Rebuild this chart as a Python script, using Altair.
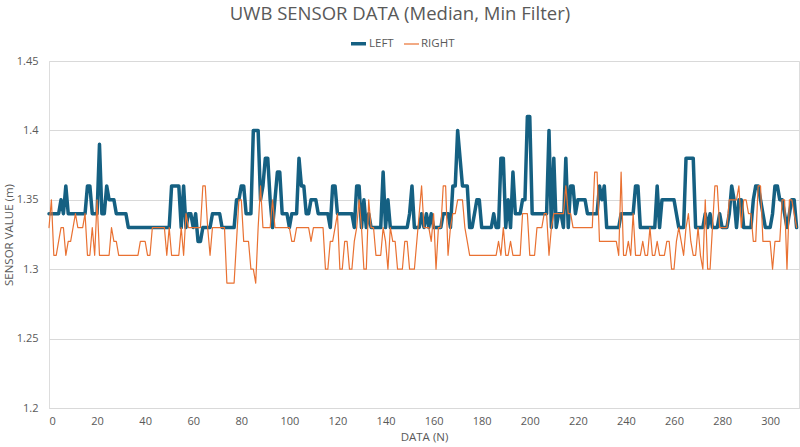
import altair as alt
import pandas as pd

series_names = ["LEFT", "RIGHT"]
x_ticks = [0, 20, 40, 60, 80, 100, 120, 140, 160, 180, 200, 220, 240, 260, 280, 300]
y_ticks = [1.2, 1.25, 1.3, 1.35, 1.4, 1.45]

left = [
    1.34, 1.34, 1.34, 1.34, 1.34, 1.35, 1.34, 1.36, 1.34, 1.34,
    1.34, 1.34, 1.34, 1.34, 1.34, 1.34, 1.36, 1.36, 1.34, 1.34,
    1.34, 1.39, 1.34, 1.34, 1.36, 1.35, 1.35, 1.35, 1.34, 1.34,
    1.34, 1.34, 1.34, 1.33, 1.33, 1.33, 1.33, 1.33, 1.33, 1.33,
    1.33, 1.33, 1.33, 1.33, 1.33, 1.33, 1.33, 1.33, 1.33, 1.33,
    1.33, 1.36, 1.36, 1.36, 1.36, 1.33, 1.36, 1.33, 1.34, 1.34,
    1.33, 1.34, 1.32, 1.32, 1.33, 1.33, 1.33, 1.33, 1.34, 1.34,
    1.34, 1.34, 1.33, 1.33, 1.33, 1.33, 1.33, 1.33, 1.35, 1.35,
    1.36, 1.36, 1.34, 1.34, 1.34, 1.40, 1.40, 1.40, 1.35, 1.36,
    1.38, 1.38, 1.35, 1.33, 1.35, 1.37, 1.37, 1.34, 1.34, 1.34,
    1.33, 1.34, 1.34, 1.34, 1.38, 1.36, 1.36, 1.34, 1.34, 1.35,
    1.35, 1.35, 1.34, 1.34, 1.34, 1.34, 1.34, 1.33, 1.36, 1.36,
    1.34, 1.34, 1.34, 1.34, 1.34, 1.34, 1.34, 1.33, 1.36, 1.36,
    1.33, 1.35, 1.33, 1.34, 1.33, 1.33, 1.33, 1.33, 1.33, 1.37,
    1.33, 1.35, 1.33, 1.33, 1.33, 1.33, 1.33, 1.33, 1.33, 1.33,
    1.34, 1.36, 1.33, 1.33, 1.33, 1.34, 1.33, 1.34, 1.33, 1.34,
    1.33, 1.33, 1.33, 1.33, 1.34, 1.34, 1.34, 1.33, 1.36, 1.36,
    1.40, 1.38, 1.36, 1.36, 1.36, 1.33, 1.33, 1.34, 1.35, 1.35,
    1.33, 1.33, 1.33, 1.33, 1.33, 1.34, 1.33, 1.33, 1.38, 1.38,
    1.33, 1.35, 1.33, 1.37, 1.34, 1.34, 1.34, 1.35, 1.35, 1.41,
    1.41, 1.34, 1.34, 1.34, 1.34, 1.34, 1.34, 1.34, 1.40, 1.33,
    1.38, 1.33, 1.34, 1.34, 1.33, 1.38, 1.33, 1.36, 1.36, 1.34,
    1.35, 1.35, 1.35, 1.35, 1.34, 1.34, 1.34, 1.34, 1.34, 1.36,
    1.35, 1.36, 1.33, 1.33, 1.33, 1.33, 1.33, 1.33, 1.34, 1.34,
    1.34, 1.34, 1.34, 1.34, 1.36, 1.36, 1.33, 1.33, 1.33, 1.33,
    1.33, 1.33, 1.33, 1.36, 1.33, 1.35, 1.35, 1.35, 1.35, 1.35,
    1.35, 1.34, 1.33, 1.33, 1.33, 1.38, 1.38, 1.38, 1.38, 1.33,
    1.33, 1.33, 1.33, 1.34, 1.33, 1.34, 1.33, 1.33, 1.33, 1.34,
    1.33, 1.33, 1.33, 1.34, 1.36, 1.35, 1.33, 1.35, 1.35, 1.33,
    1.33, 1.33, 1.33, 1.35, 1.36, 1.36, 1.35, 1.34, 1.33, 1.33,
    1.33, 1.34, 1.36, 1.36, 1.35, 1.35, 1.34, 1.33, 1.34, 1.35,
    1.35, 1.33,
]

right = [
    1.33, 1.35, 1.31, 1.31, 1.32, 1.33, 1.33, 1.31, 1.32, 1.32,
    1.33, 1.34, 1.33, 1.33, 1.33, 1.34, 1.31, 1.31, 1.33, 1.31,
    1.35, 1.31, 1.31, 1.31, 1.31, 1.31, 1.33, 1.32, 1.32, 1.31,
    1.31, 1.31, 1.31, 1.31, 1.31, 1.31, 1.31, 1.31, 1.32, 1.32,
    1.32, 1.31, 1.31, 1.33, 1.33, 1.33, 1.33, 1.33, 1.33, 1.31,
    1.33, 1.31, 1.31, 1.31, 1.31, 1.33, 1.31, 1.34, 1.33, 1.33,
    1.33, 1.33, 1.33, 1.33, 1.36, 1.36, 1.33, 1.31, 1.33, 1.33,
    1.33, 1.33, 1.33, 1.33, 1.29, 1.29, 1.29, 1.29, 1.32, 1.35,
    1.35, 1.32, 1.32, 1.32, 1.30, 1.30, 1.29, 1.33, 1.36, 1.33,
    1.33, 1.33, 1.33, 1.35, 1.33, 1.33, 1.33, 1.33, 1.33, 1.33,
    1.33, 1.32, 1.32, 1.33, 1.33, 1.33, 1.33, 1.33, 1.33, 1.32,
    1.33, 1.33, 1.33, 1.33, 1.33, 1.30, 1.30, 1.32, 1.32, 1.33,
    1.34, 1.30, 1.30, 1.32, 1.32, 1.30, 1.30, 1.32, 1.33, 1.35,
    1.33, 1.30, 1.30, 1.35, 1.33, 1.33, 1.31, 1.31, 1.31, 1.33,
    1.32, 1.30, 1.33, 1.32, 1.32, 1.30, 1.30, 1.30, 1.32, 1.32,
    1.30, 1.30, 1.30, 1.32, 1.34, 1.36, 1.33, 1.33, 1.33, 1.32,
    1.34, 1.30, 1.33, 1.33, 1.36, 1.36, 1.31, 1.33, 1.34, 1.34,
    1.35, 1.35, 1.35, 1.33, 1.32, 1.31, 1.31, 1.31, 1.31, 1.31,
    1.31, 1.31, 1.31, 1.31, 1.31, 1.31, 1.31, 1.32, 1.31, 1.33,
    1.31, 1.31, 1.32, 1.31, 1.31, 1.31, 1.31, 1.34, 1.34, 1.34,
    1.31, 1.31, 1.31, 1.33, 1.33, 1.33, 1.34, 1.34, 1.31, 1.33,
    1.34, 1.34, 1.34, 1.34, 1.34, 1.36, 1.34, 1.34, 1.33, 1.33,
    1.33, 1.33, 1.33, 1.33, 1.33, 1.33, 1.33, 1.37, 1.37, 1.32,
    1.32, 1.32, 1.32, 1.32, 1.32, 1.32, 1.32, 1.31, 1.37, 1.31,
    1.31, 1.32, 1.31, 1.34, 1.31, 1.31, 1.31, 1.32, 1.31, 1.31,
    1.33, 1.31, 1.31, 1.32, 1.31, 1.31, 1.31, 1.32, 1.32, 1.30,
    1.30, 1.32, 1.33, 1.32, 1.31, 1.33, 1.34, 1.32, 1.31, 1.31,
    1.33, 1.31, 1.30, 1.35, 1.30, 1.30, 1.33, 1.36, 1.36, 1.33,
    1.33, 1.33, 1.33, 1.35, 1.35, 1.35, 1.35, 1.36, 1.33, 1.35,
    1.35, 1.34, 1.34, 1.32, 1.32, 1.36, 1.36, 1.32, 1.32, 1.32,
    1.32, 1.30, 1.32, 1.32, 1.32, 1.35, 1.35, 1.30, 1.35, 1.35,
    1.34, 1.33,
]

rows = []
for name, vals in (("LEFT", left), ("RIGHT", right)):
    for i, v in enumerate(vals):
        rows.append({"n": i, "value": v, "series": name})
df = pd.DataFrame(rows)

TXT = "#595959"
GRID = "#d9d9d9"
FONT = "Open Sans"

legend = alt.Legend(
    title=None, orient="none", direction="horizontal",
    legendX=300, legendY=-27,
    symbolType="stroke", symbolSize=225,
    labelFont=FONT, labelFontSize=11.5, labelColor=TXT,
    labelOffset=1, columnPadding=7,
)

chart = alt.Chart(df).mark_line(strokeJoin="round", strokeCap="round").encode(
    x=alt.X(
        "n:Q",
        scale=alt.Scale(domain=[0, 312], nice=False, zero=False),
        axis=alt.Axis(
            values=x_ticks, title="DATA (N)", grid=False, ticks=False,
            domain=True, domainColor=GRID, labelPadding=7, titlePadding=5,
            labelFont=FONT, labelFontSize=11, labelColor=TXT,
            titleFont=FONT, titleFontSize=11.5, titleColor=TXT, titleFontWeight="normal",
        ),
    ),
    y=alt.Y(
        "value:Q",
        scale=alt.Scale(domain=[1.2, 1.45], nice=False, zero=False),
        axis=alt.Axis(
            values=y_ticks, format="~g", title="SENSOR VALUE (m)",
            grid=True, gridColor=GRID, ticks=False, domain=False,
            labelPadding=11, titlePadding=2,
            labelFont=FONT, labelFontSize=11, labelColor=TXT,
            titleFont=FONT, titleFontSize=11.5, titleColor=TXT, titleFontWeight="normal",
        ),
    ),
    color=alt.Color(
        "series:N",
        scale=alt.Scale(domain=series_names, range=["#156082", "#E97132"]),
        legend=legend,
    ),
    strokeWidth=alt.StrokeWidth(
        "series:N",
        scale=alt.Scale(domain=series_names, range=[3.5, 1.2]),
        legend=legend,
    ),
).properties(
    width=750,
    height=347,
    title=alt.TitleParams(
        "UWB SENSOR DATA (Median, Min Filter)",
        font=FONT, fontSize=18.5, fontWeight="normal", color=TXT,
        anchor="middle", frame="group", dx=-24, offset=11,
    ),
    autosize=alt.AutoSizeParams(type="none"),
    padding={"left": 49, "top": 61, "right": 1, "bottom": 39},
).configure_view(stroke=None).configure(background="white")

chart.save("out.html", embed_options={"renderer": "svg", "actions": False})
